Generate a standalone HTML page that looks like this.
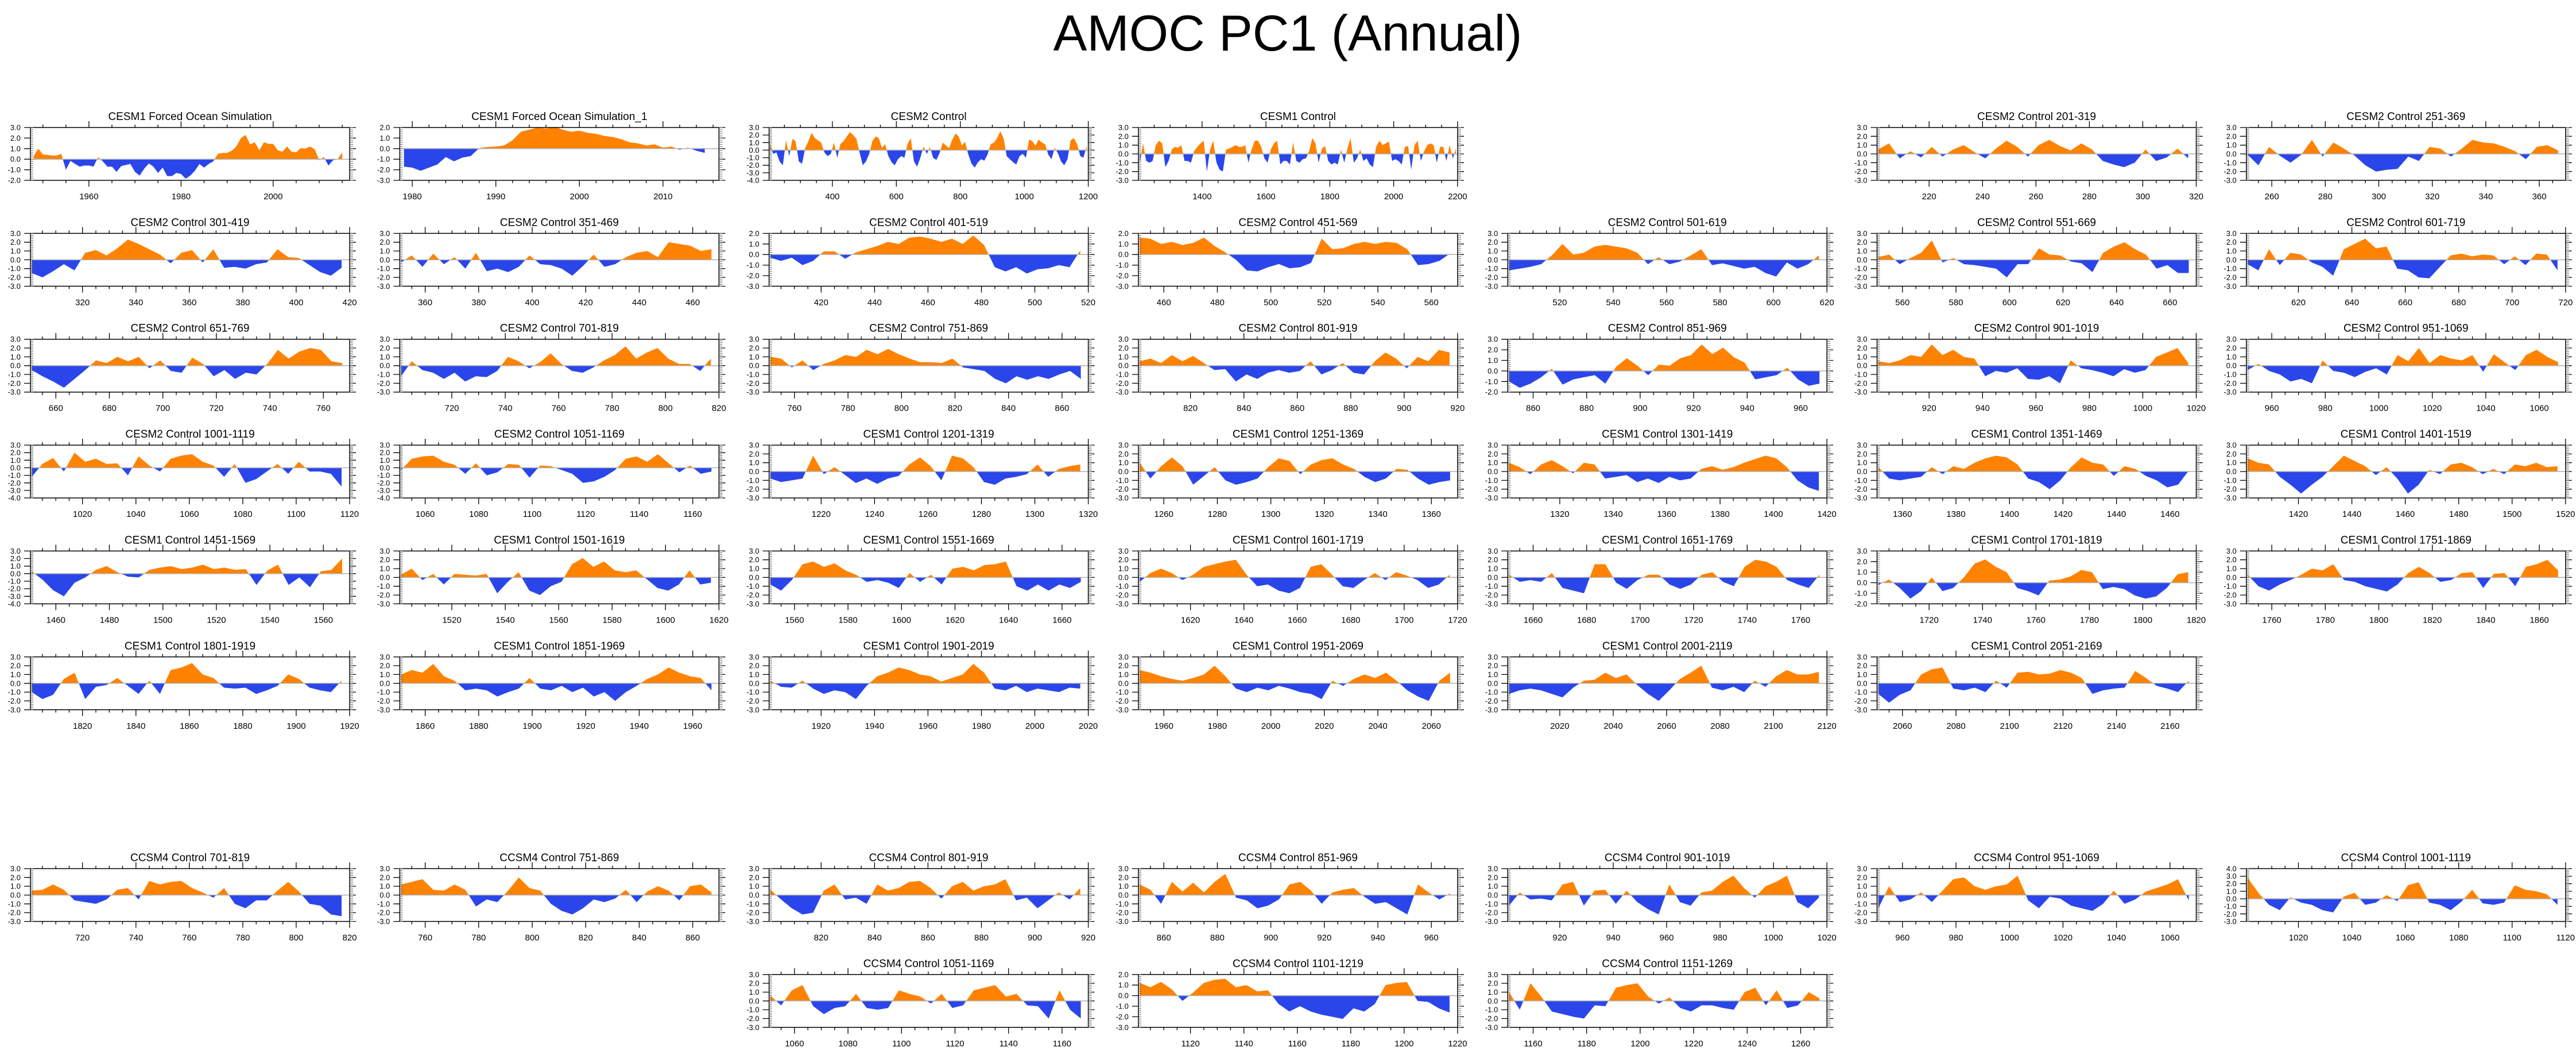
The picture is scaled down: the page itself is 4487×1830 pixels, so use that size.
<!DOCTYPE html>
<html><head><meta charset="utf-8"><title>AMOC PC1 (Annual)</title>
<style>
html,body{margin:0;padding:0;background:#fff;}
svg{display:block;font-family:"Liberation Sans",Arial,sans-serif;}
</style></head>
<body>
<svg id="fig" width="4487" height="1830" viewBox="0 0 4487 1830" xmlns="http://www.w3.org/2000/svg">
<rect width="4487" height="1830" fill="#fff"/>
<text x="2243" y="88" font-size="88" text-anchor="middle" fill="#000">AMOC PC1 (Annual)</text>
</svg>
<script>
// ---------- DATA ----------
const titles = ["CESM1 Forced Ocean Simulation","CESM1 Forced Ocean Simulation_1","CESM2 Control","CESM1 Control","CESM2 Control 201-319","CESM2 Control 251-369",
"CESM2 Control 301-419","CESM2 Control 351-469","CESM2 Control 401-519","CESM2 Control 451-569","CESM2 Control 501-619","CESM2 Control 551-669","CESM2 Control 601-719",
"CESM2 Control 651-769","CESM2 Control 701-819","CESM2 Control 751-869","CESM2 Control 801-919","CESM2 Control 851-969","CESM2 Control 901-1019","CESM2 Control 951-1069",
"CESM2 Control 1001-1119","CESM2 Control 1051-1169","CESM1 Control 1201-1319","CESM1 Control 1251-1369","CESM1 Control 1301-1419","CESM1 Control 1351-1469","CESM1 Control 1401-1519",
"CESM1 Control 1451-1569","CESM1 Control 1501-1619","CESM1 Control 1551-1669","CESM1 Control 1601-1719","CESM1 Control 1651-1769","CESM1 Control 1701-1819","CESM1 Control 1751-1869",
"CESM1 Control 1801-1919","CESM1 Control 1851-1969","CESM1 Control 1901-2019","CESM1 Control 1951-2069","CESM1 Control 2001-2119","CESM1 Control 2051-2169",
"CCSM4 Control 701-819","CCSM4 Control 751-869","CCSM4 Control 801-919","CCSM4 Control 851-969","CCSM4 Control 901-1019","CCSM4 Control 951-1069","CCSM4 Control 1001-1119",
"CCSM4 Control 1051-1169","CCSM4 Control 1101-1219","CCSM4 Control 1151-1269"];
const dataStart = [1948,1979,205,1205,201,251,301,351,401,451,501,551,601,651,701,751,801,851,901,951,1001,1051,1201,1251,1301,1351,1401,1451,1501,1551,1601,1651,1701,1751,1801,1851,1901,1951,2001,2051,701,751,801,851,901,951,1001,1051,1101,1151];
const dataStep = [1,1,10,10,4,4,4,4,4,4,4,4,4,4,4,4,4,4,4,4,4,4,4,4,4,4,4,4,4,4,4,4,4,4,4,4,4,4,4,4,4,4,4,4,4,4,4,4,4,4];
const specialLo = [1947.3,1978.5,202,1200.5];
const specialHi = [2016.6,2016.7,1200,2200];
const yMax = [3,2,3,3,3,3, 3,3,2,2,3,3,3, 3,3,3,3,3,3,3, 3,3,3,3,3,3,3, 3,3,3,3,3,3,3, 3,3,3,3,3,3, 3,3,3,3,3,3,4, 3,2,3];
const yMin = [-2,-3,-4,-3,-3,-3, -3,-3,-3,-3,-3,-3,-3, -3,-3,-3,-3,-2,-3,-3, -4,-4,-3,-3,-3,-3,-3, -4,-3,-3,-3,-3,-2,-3, -3,-3,-3,-3,-3,-3, -3,-3,-3,-3,-3,-3,-3, -3,-3,-3];
const majorStep = [20,10,200,200];
const minorStep = [5,2,50,50];

const s0=[.3,1.0,.45,.4,.35,.35,.5,-1.0,-.15,-.45,-.7,-.6,-.6,-.7,.2,-.2,-.7,-.7,-1.2,-.65,-.55,-.45,-1.2,-1.55,-.9,-.4,-.7,-1.3,-.8,-1.6,-1.6,-1.3,-1.4,-1.85,-1.55,-1.1,-.45,-.8,-.45,-.2,.5,.6,.6,.8,1.2,2.0,2.3,1.4,1.6,.85,1.6,1.45,1.45,.85,.7,1.2,.7,.65,1.05,1.0,1.2,.95,-.1,.2,-.6,-.1,0,.65];
const s1=[-1.7,-1.8,-2.1,-1.8,-1.5,-0.8,-1.2,-0.85,-0.7,0.05,0.15,0.2,0.3,0.8,1.6,1.8,2.0,1.9,2.1,1.8,1.6,1.7,1.5,1.4,1.2,1.1,0.9,0.6,0.5,0.3,0.4,0.1,0.2,-0.1,0.1,-0.2,-0.4];
const s2=[0.8,-0.5,-0.3,-1.5,-2.0,1.3,-0.8,1.5,1.2,-1.5,-1.8,0.3,1.2,2.3,1.6,1.3,1.0,-0.3,-0.8,-0.5,1.0,-1.0,0.8,1.2,1.8,2.4,2.0,1.5,-0.3,-2.0,-1.5,-0.5,1.2,1.8,1.6,0.3,0.8,-0.8,-1.6,-2.0,-1.2,-0.8,-1.0,0.8,1.6,-1.5,-2.2,-1.0,0.5,-0.5,0.4,-1.0,-1.3,-0.4,1.0,0.6,0.3,1.4,2.2,1.8,0.6,1.1,-0.6,-1.8,-2.3,-1.6,-1.2,-1.4,-0.6,0.8,1.0,1.6,2.5,1.6,-0.8,-1.2,-1.6,-1.9,-0.8,-0.5,-1.0,1.4,1.2,0.6,1.4,1.0,0.8,-0.6,-1.2,0.3,-0.4,-1.5,-2.0,-1.2,1.3,1.6,0.8,-0.8,-1.0,0.5];
const s3=[-1.0,1.2,-0.8,-1.0,-0.8,1.0,1.5,1.2,-1.5,-0.8,0.5,0.8,0.7,1.0,-0.8,-0.8,-1.0,0.3,0.8,1.2,1.5,-2.0,0.5,1.5,-1.0,-1.8,-2.0,0.5,0.6,0.8,1.0,0.8,0.8,1.0,-1.0,0.5,1.5,1.5,0.8,-0.5,-1.0,0.5,1.2,1.5,-1.2,-0.8,-0.8,-1.2,1.3,-0.8,-1.0,-0.6,-0.5,0.3,1.8,1.2,-1.0,0.6,0.9,-0.8,-1.2,-1.0,-1.2,0.5,-1.0,0.6,1.8,-1.0,-0.5,0.5,-0.8,-0.5,-1.2,-1.5,0.8,1.5,1.0,1.2,1.4,-0.8,-0.6,-0.8,-1.2,0.8,0.9,-1.8,1.0,1.5,-0.8,0.3,1.0,1.2,1.0,-1.0,0.8,0.8,-0.8,1.0,-0.5,0.6];
const s4=[0.5,1.2,-0.5,0.3,-0.4,0.8,-0.3,0.5,1.0,0.2,-0.5,0.6,1.5,0.8,-0.3,1.0,1.6,0.9,0.4,1.2,0.5,-0.8,-1.2,-1.5,-1.0,0.5,-0.8,-0.4,0.6,-0.5];
const s5=[-0.1,-1.3,0.8,-0.2,-1.0,-0.1,1.6,-0.3,1.3,0.6,-0.2,-1.3,-2.0,-1.8,-1.7,-0.3,-0.8,0.8,0.6,-0.3,0.6,1.6,1.3,1.2,0.8,0.3,-0.6,0.8,1.0,0.4];
const s6=[-1.5,-2.0,-1.3,-0.5,-1.2,0.8,1.1,0.5,1.3,2.3,1.8,1.2,0.6,-0.4,0.8,1.1,-0.3,1.2,-0.9,-0.8,-1.0,-0.5,-0.3,1.2,0.3,0.2,-0.6,-1.4,-1.8,-0.9];
const s7=[-0.3,0.5,-0.8,0.7,-0.5,0.3,-1.0,0.8,-1.3,-1.0,-1.4,-0.8,0.5,-0.5,-0.6,-1.0,-1.8,-0.7,0.6,-0.8,-0.5,0.3,0.8,1.0,0.3,2.0,1.8,1.6,1.0,1.2];
const s8=[-0.3,-0.6,-0.3,-1.0,-0.6,0.3,0.3,-0.4,0.2,0.5,0.8,1.2,1.0,1.6,1.7,1.5,1.2,1.5,1.0,1.8,0.9,-1.2,-1.6,-1.2,-1.8,-1.4,-1.3,-1.0,-1.2,0.4];
const s9=[1.6,1.5,1.0,1.2,0.9,1.1,1.6,0.8,0.2,-0.5,-1.5,-1.6,-1.2,-0.9,-1.3,-1.2,-0.8,1.5,0.5,0.6,1.0,1.2,1.0,1.2,1.1,0.5,-1.0,-0.9,-0.6,0.1];
const s10=[-1.2,-1.0,-0.8,-0.5,0.5,1.8,0.6,0.8,1.5,1.7,1.5,1.3,0.8,-0.5,0.3,-0.5,-0.2,0.5,1.2,-0.6,-0.4,-0.7,-1.0,-0.8,-1.5,-1.9,-0.3,-1.0,-0.5,0.5];
const s11=[0.3,0.6,-0.5,0.2,0.8,2.2,-0.3,0.2,-0.5,-0.6,-0.8,-1.0,-2.0,-0.5,-0.5,1.3,0.6,0.5,-0.2,-0.4,-1.4,0.8,1.5,2.0,1.2,0.6,-1.0,-0.6,-1.5,-1.5];
const s12=[-0.5,-1.2,1.2,-0.6,0.8,0.6,-0.3,-0.8,-1.8,1.2,1.8,2.4,1.3,1.5,-1.0,-1.2,-2.0,-2.1,-0.8,0.5,0.7,0.4,0.6,0.5,-0.5,0.4,-0.6,0.7,0.6,-1.2];
const s13=[-0.5,-1.2,-1.8,-2.5,-1.5,-0.5,0.6,0.3,1.0,0.5,1.0,-0.3,0.6,-0.6,-0.8,0.9,0.2,-1.2,-0.5,-1.5,-0.8,-1.0,0.2,1.8,0.8,1.6,2.0,1.8,0.5,0.3];
const s14=[-1.2,0.5,-0.5,-0.8,-1.5,-0.8,-1.8,-1.2,-1.3,-0.6,1.0,0.5,-0.3,0.4,1.4,0.2,-0.6,-0.8,-0.2,0.6,1.2,2.2,0.8,1.5,2.0,0.8,0.2,0.2,-0.6,0.8];
const s15=[1.0,0.8,-0.2,0.6,-0.5,0.2,0.6,1.2,1.0,1.8,1.3,1.9,1.3,0.8,0.4,0.4,0.3,0.8,-0.2,-0.4,-0.6,-1.5,-2.0,-1.2,-1.6,-1.2,-1.5,-1.0,-0.6,-1.5];
const s16=[0.5,0.8,0.3,1.2,0.5,1.1,0.3,-0.5,-0.4,-1.8,-1.0,-1.5,-0.8,-0.5,-0.8,-0.6,0.5,-1.0,-0.5,0.3,-0.8,-1.0,0.5,1.5,0.8,-0.3,1.0,0.5,1.8,1.5];
const s17=[-1.0,-1.6,-1.2,-0.6,0.2,-1.3,-0.8,-0.6,-0.4,-1.2,0.4,1.2,0.5,-0.4,0.6,0.5,1.2,1.5,2.5,1.6,2.2,1.3,0.8,-0.8,-0.6,-0.4,0.3,-0.8,-1.4,-1.2];
const s18=[0.5,0.3,0.6,1.2,1.0,2.4,1.2,1.8,1.0,0.8,-1.2,-0.6,-0.8,-0.3,-1.5,-1.6,-1.2,-2.0,0.6,-0.3,-0.5,-0.8,-1.2,-0.4,-0.8,-0.5,1.0,1.5,2.0,0.3];
const s19=[-0.5,0.2,-0.6,-1.0,-1.8,-1.5,-2.0,0.6,-0.6,-0.8,-1.3,-0.7,-0.3,-1.0,1.2,0.5,2.0,0.3,1.2,0.8,0.6,1.2,-0.7,1.3,0.4,-0.5,1.2,1.8,1.0,0.4];
const s20=[-1.2,0.5,1.3,-0.5,2.0,0.8,1.2,0.5,0.6,-1.0,1.5,0.3,-0.5,1.2,1.6,1.8,0.8,0.3,-1.2,0.5,-2.0,-1.5,-0.5,0.5,-0.8,0.8,-0.5,-0.5,-0.8,-2.5];
const s21=[-0.3,1.2,1.5,1.6,0.8,0.4,-0.8,0.6,-1.0,-0.6,0.5,0.4,-1.3,0.3,0.2,-0.3,-0.8,-2.0,-1.8,-1.2,-0.3,1.2,1.5,0.8,1.8,0.6,-0.6,0.3,-0.8,-0.5];
const s22=[-0.8,-1.2,-1.0,-0.8,1.8,-0.3,0.5,-0.4,-1.3,-0.8,-1.4,-0.8,-0.5,0.8,1.6,0.6,-1.0,1.8,1.5,0.5,-1.2,-1.5,-0.8,-0.6,-0.3,0.8,-0.6,0.3,0.6,0.8];
const s23=[1.0,-0.8,0.6,1.6,0.6,-1.5,-0.5,0.5,-1.0,-1.5,-1.2,-0.8,0.5,1.5,1.2,-0.3,0.8,1.3,1.5,0.8,0.3,-0.6,-1.2,-0.8,0.3,0.2,-0.8,-1.5,-1.2,-1.0];
const s24=[1.0,0.5,-0.3,0.8,1.3,0.6,-0.2,1.0,0.8,-0.8,-0.6,-0.4,-1.2,-0.8,-1.3,-0.6,-1.0,-0.8,0.3,0.6,0.2,0.5,1.0,1.4,1.8,1.5,0.5,-1.0,-1.8,-2.2];
const s25=[0.5,-0.8,-1.0,-0.8,-0.6,0.5,-0.3,0.6,0.3,1.0,1.5,1.8,1.6,0.8,-0.8,-1.2,-2.0,-1.0,0.5,1.6,1.0,0.8,-0.5,0.6,0.3,-0.5,-1.0,-1.8,-1.5,0.1];
const s26=[1.5,1.0,0.8,-0.6,-1.5,-2.5,-1.5,-0.6,0.6,1.8,1.2,0.6,-0.4,0.5,-0.8,-2.5,-1.5,0.2,-0.3,0.8,1.0,0.5,-0.3,0.3,-0.3,0.8,0.6,1.0,0.5,0.6];
const s27=[0.3,-0.8,-2.2,-3.0,-1.2,-0.5,0.5,1.0,0.2,-0.4,-0.5,0.5,0.8,1.0,0.6,0.8,1.2,0.6,0.8,0.5,0.6,-1.5,0.4,1.2,-1.5,-0.5,-1.8,0.3,0.5,2.0];
const s28=[0.3,1.0,-0.3,0.4,-0.8,0.4,0.3,0.2,0.4,-1.8,-0.5,0.6,-1.5,-2.0,-1.0,-0.5,1.5,2.2,1.2,1.8,0.8,0.6,0.8,-0.2,-1.2,-1.5,-0.8,0.8,-0.8,-0.6];
const s29=[-0.8,-1.5,-0.3,1.5,1.8,1.2,1.6,0.8,0.3,-0.5,-0.3,-0.6,-1.2,0.5,-0.5,0.3,-0.8,1.0,1.2,0.8,1.4,1.5,1.8,-1.0,-1.5,-0.8,-1.5,-0.8,-1.2,-0.5];
const s30=[-0.5,0.5,1.0,0.5,-0.3,0.3,1.2,1.5,1.8,2.0,0.3,-1.0,-0.8,-1.5,-1.8,-1.2,1.2,1.5,0.3,-1.0,-1.2,-0.3,0.5,-0.3,0.6,0.2,-0.3,-1.2,-0.8,0.3];
const s31=[0.3,-0.5,-0.3,-0.5,0.5,-1.2,-1.5,-1.8,1.5,1.5,-0.6,-1.3,-0.3,0.3,0.3,-0.8,-1.3,-0.8,0.3,0.6,-0.5,-1.0,1.2,2.0,1.8,1.2,-0.3,-0.8,-1.2,0.3];
const s32=[-0.2,0.3,-0.5,-1.5,-0.8,0.5,-0.8,-0.5,0.5,1.8,2.2,1.5,1.0,-0.5,-0.8,-1.2,0.2,0.3,0.6,1.2,1.0,-0.6,-0.4,-0.6,-1.2,-1.5,-1.3,-0.5,0.8,1.0];
const s33=[0.3,-1.0,-1.5,-0.8,-0.3,0.3,1.0,0.8,1.5,-0.3,-0.5,-1.0,-1.3,-1.6,-0.8,0.5,1.2,0.5,-0.5,-0.3,0.5,0.6,-1.2,0.4,0.5,-1.0,1.2,1.5,2.0,0.8];
const s34=[-1.0,-1.8,-1.3,0.5,1.2,-1.8,-0.4,-0.2,0.6,-0.3,-1.2,0.3,-1.2,1.5,1.8,2.3,1.0,0.6,-0.5,-0.6,-0.5,-1.2,-0.8,-0.3,1.0,0.5,-0.5,-0.8,-1.0,0.3];
const s35=[1.0,1.5,1.2,2.2,0.8,0.3,-0.8,-0.6,-0.8,-1.5,-1.0,-0.6,0.6,-0.6,-0.8,-0.3,-1.0,-0.5,-1.5,-1.0,-2.0,-1.0,-0.3,0.5,1.0,1.8,1.2,0.8,0.6,-0.8];
const s36=[0.3,-0.4,-0.5,0.3,-0.6,-1.2,-0.8,-1.0,-1.8,-0.3,0.8,1.2,1.8,1.5,1.0,0.8,0.2,0.6,1.0,2.2,1.2,-0.6,-0.8,-0.3,-1.0,-0.6,-0.8,-1.0,-0.5,-0.6];
const s37=[1.5,1.2,0.8,0.5,0.3,0.6,1.0,2.0,0.8,-0.6,-1.0,-0.5,-0.8,-0.3,-0.6,-1.0,-1.2,-1.8,0.3,-0.3,0.5,1.0,0.6,1.2,0.3,-0.8,-1.5,-2.0,0.3,1.2];
const s38=[-1.2,-0.8,-0.6,-0.8,-1.2,-1.6,-0.5,0.3,0.4,1.2,0.6,1.0,-0.2,-1.2,-2.0,-0.8,0.5,1.2,2.0,-0.5,-0.8,-0.4,-1.0,0.3,-0.4,0.8,1.5,1.0,1.0,1.3];
const s39=[-1.2,-2.2,-1.3,-0.8,1.0,1.6,1.8,-0.6,-0.8,-0.5,-1.0,0.3,-0.5,1.2,1.3,1.0,1.1,1.5,1.2,0.6,-1.2,-0.8,-0.6,-0.5,1.4,0.6,-0.3,-0.6,-1.0,0.3];
const s40=[0.5,0.6,1.2,0.6,-0.6,-0.8,-1.0,-0.5,0.6,0.8,-0.5,1.6,1.2,1.5,1.6,0.8,0.3,-0.3,0.8,-1.0,-1.5,-0.6,-0.6,0.5,1.5,0.4,-1.0,-1.2,-2.2,-2.4];
const s41=[1.2,1.5,1.8,0.6,0.5,1.2,0.6,-1.3,-0.5,-0.8,0.5,2.0,0.8,0.5,-1.0,-1.8,-2.2,-1.5,-0.5,-0.8,-0.4,0.6,-0.8,0.4,1.0,0.5,-0.6,1.0,1.2,0.3];
const s42=[0.6,-0.5,-1.5,-2.2,-2.0,0.5,1.2,-0.5,-0.3,-1.0,1.2,0.5,0.8,1.5,1.6,0.8,-0.4,1.0,1.5,0.5,1.0,1.2,1.8,-0.6,-0.3,-1.5,-0.6,0.3,-0.5,0.8];
const s43=[1.2,0.6,-1.0,1.5,0.4,1.4,0.3,1.5,2.4,-0.3,-0.6,-1.5,-1.2,-0.5,1.2,1.5,0.5,-1.0,0.3,0.6,0.8,-0.2,-1.0,-0.8,-1.5,-2.2,1.2,0.3,-0.5,0.2];
const s44=[-1.2,0.3,-0.5,-0.4,-0.6,1.2,1.5,-1.2,0.5,0.6,-1.0,0.5,-0.8,-1.6,-2.2,1.2,-0.8,-1.2,0.3,0.5,1.5,2.2,0.8,-0.3,1.0,1.5,2.2,-0.8,-1.5,-0.3];
const s45=[-1.5,1.0,-0.8,-0.5,0.3,-0.8,0.5,1.8,2.0,1.0,0.6,1.0,1.2,2.2,-0.6,-1.5,-0.2,-0.4,-1.2,-1.5,-1.8,-1.0,0.5,-1.0,-0.5,0.4,0.8,1.2,1.8,-0.6];
const s46=[2.8,0.8,-0.8,-1.5,0.2,-0.5,-0.8,-1.5,-1.8,0.3,0.8,-0.8,-0.5,0.5,-0.3,1.8,2.2,-0.5,-0.8,-1.5,-0.4,1.2,-0.6,-0.8,-0.5,1.8,1.2,1.0,0.6,-0.8];
const s47=[0.6,-0.5,1.2,1.8,-0.6,-1.5,-0.8,-0.6,0.8,-0.8,-1.0,-0.8,1.2,0.8,0.5,-0.3,0.8,-0.8,-0.5,1.2,1.5,1.8,0.5,0.8,-0.5,-0.6,-2.0,1.2,-1.0,-2.0];
const s48=[1.2,0.8,1.3,0.6,-0.5,0.3,1.2,1.5,1.6,0.8,1.0,0.4,0.5,-0.8,-1.5,-1.0,-1.5,-1.8,-2.0,-2.2,-1.2,-1.5,-0.8,1.0,1.2,1.3,-0.5,-0.6,-1.2,-1.6];
const s49=[1.0,-1.0,2.0,0.5,-1.2,-1.5,-1.8,-2.0,-0.5,-0.6,1.5,1.8,2.0,0.5,-0.3,0.4,-0.8,-1.2,-0.5,-0.5,-0.8,-1.0,1.0,1.5,-0.5,1.2,-0.8,-0.5,1.0,0.3];
const series = [s0,s1,s2,s3,s4,s5,s6,s7,s8,s9,s10,s11,s12,s13,s14,s15,s16,s17,s18,s19,s20,s21,s22,s23,s24,s25,s26,s27,s28,s29,s30,s31,s32,s33,s34,s35,s36,s37,s38,s39,s40,s41,s42,s43,s44,s45,s46,s47,s48,s49];

// ---------- LAYOUT ----------
const gridSlots = [[0,0],[1,0],[2,0],[3,0],[5,0],[6,0],
[0,1],[1,1],[2,1],[3,1],[4,1],[5,1],[6,1],
[0,2],[1,2],[2,2],[3,2],[4,2],[5,2],[6,2],
[0,3],[1,3],[2,3],[3,3],[4,3],[5,3],[6,3],
[0,4],[1,4],[2,4],[3,4],[4,4],[5,4],[6,4],
[0,5],[1,5],[2,5],[3,5],[4,5],[5,5],
[0,7],[1,7],[2,7],[3,7],[4,7],[5,7],[6,7],
[2,8],[3,8],[4,8]];
const LEFT0=53, COLP=643.3, TOP0=222, ROWP=184.35, W=556, H=92;
const ORANGE="#ff8200", BLUE="#2a46ea";
const NS="http://www.w3.org/2000/svg";
const svg=document.getElementById('fig');
function mk(tag, attrs, parent){const e=document.createElementNS(NS,tag);for(const k in attrs)e.setAttribute(k,attrs[k]);parent.appendChild(e);return e;}

titles.forEach((title,i)=>{
  const [c,r]=gridSlots[i];
  const L=LEFT0+c*COLP, T=TOP0+r*ROWP, R=L+W, B=T+H;
  const vals=series[i];
  const lo = i<4 ? specialLo[i] : dataStart[i]-0.5;
  const hi = i<4 ? specialHi[i] : (dataStart[i]%100===51 ? dataStart[i]+118.8 : dataStart[i]+119);
  const maj = i<4 ? majorStep[i] : 20;
  const mnr = i<4 ? minorStep[i] : 5;
  const xs=yr=>L+(yr-lo)/(hi-lo)*W;
  const ys=v=>T+(yMax[i]-v)/(yMax[i]-yMin[i])*H;
  const g=mk('g',{},svg);
  
  
  const t=mk('text',{x:L+W/2,y:T-13,'font-size':19,'text-anchor':'middle',fill:'#000'},g);
  t.textContent=title;
  
  
  const z=ys(0);
  const defs=mk('defs',{},g);
  const cpA=mk('clipPath',{id:'ca'+i},defs); mk('rect',{x:L,y:T,width:W,height:Math.max(0,z-T)},cpA);
  const cpB=mk('clipPath',{id:'cb'+i},defs); mk('rect',{x:L,y:z,width:W,height:Math.max(0,B-z)},cpB);
  let d='M'+xs(dataStart[i]).toFixed(1)+','+z.toFixed(1);
  vals.forEach((v,k)=>{d+=' L'+xs(dataStart[i]+k*dataStep[i]).toFixed(1)+','+ys(v).toFixed(1);});
  d+=' L'+xs(dataStart[i]+(vals.length-1)*dataStep[i]).toFixed(1)+','+z.toFixed(1)+' Z';
  const pa=mk('path',{d:d,fill:ORANGE,'clip-path':'url(#ca'+i+')'},g);
  
  
  const pb=mk('path',{d:d,fill:BLUE,'clip-path':'url(#cb'+i+')'},g);
  
  
  const zl=mk('line',{x1:L,x2:R,y1:z,y2:z,stroke:'#b0b0b0','stroke-width':1.5},g);
  
  
  const box=mk('rect',{x:L,y:T,width:W,height:H,fill:'none',stroke:'#000','stroke-width':1.5},g);
  
  
  let tk='';
  for(let yr=Math.ceil(lo/mnr)*mnr; yr<=hi+1e-6; yr+=mnr){
    const x=xs(yr).toFixed(1); const isMaj=Math.abs(yr/maj-Math.round(yr/maj))<1e-6; const len=isMaj?11:5;
    tk+='M'+x+','+T+' V'+(T-len)+' M'+x+','+B+' V'+(B+len)+' ';
    if(isMaj){
      const xl=mk('text',{x:x,y:B+33,'font-size':15,'text-anchor':'middle',fill:'#000'},g);
      xl.textContent=String(yr);
      
      
    }
  }
  const xt=mk('path',{d:tk,stroke:'#000','stroke-width':1.3,fill:'none'},g);
  
  
  let ytk='', ymn='';
  for(let v=yMin[i]; v<=yMax[i]+1e-6; v+=1){
    const y=ys(v).toFixed(1);
    ytk+='M'+L+','+y+' H'+(L-11)+' M'+R+','+y+' H'+(R+11)+' ';
    const yl=mk('text',{x:L-17,y:(+y+4.5),'font-size':13,'text-anchor':'end',fill:'#000'},g);
    yl.textContent=v.toFixed(1);
    
    
  }
  for(let v=yMin[i]; v<=yMax[i]+1e-6; v+=0.2){
    const y=ys(v).toFixed(1);
    ymn+='M'+L+','+y+' H'+(L+5)+' M'+R+','+y+' H'+(R+6)+' ';
  }
  const yt=mk('path',{d:ytk,stroke:'#000','stroke-width':1.3,fill:'none'},g);
  
  
  const ym=mk('path',{d:ymn,stroke:'#666','stroke-width':1,fill:'none'},g);
  
  
});
</script>
</body></html>
